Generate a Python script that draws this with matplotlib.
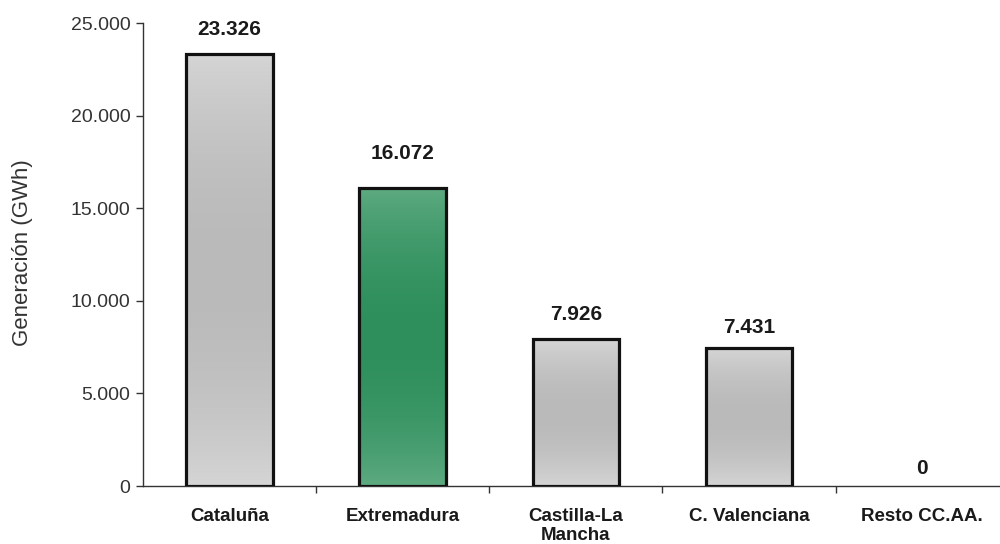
import numpy as np
import matplotlib.pyplot as plt
from matplotlib.colors import to_rgb

plt.rcParams['font.family'] = ['Liberation Sans', 'DejaVu Sans']

# Datos
regiones = ['Cataluña', 'Extremadura', 'Castilla-La\nMancha', 'C. Valenciana', 'Resto CC.AA.']
generacion = [23326, 16072, 7926, 7431, 0]
etiquetas = ['23.326', '16.072', '7.926', '7.431', '0']
yticks = [0, 5000, 10000, 15000, 20000, 25000]
ytick_labels = ['0', '5.000', '10.000', '15.000', '20.000', '25.000']

# Estilo
colores = [('#d6d6d6', '#bababa'), ('#5fab82', '#2e8f5c'), ('#d6d6d6', '#bababa'),
           ('#d6d6d6', '#bababa'), ('#d6d6d6', '#bababa')]
offsets = [11, 18, 11, 8, 6]  # separación etiqueta-barra (pt)
ancho = 0.5

fig = plt.figure(figsize=(10, 5.44), dpi=100)
ax = fig.add_axes([0.143, 0.1066, 0.857, 0.8511])

x = np.arange(len(regiones))
bars = ax.bar(x, generacion, width=ancho, facecolor='none', edgecolor='#111111',
              linewidth=2.3, zorder=3)

# Degradado vertical dentro de cada barra
t = np.linspace(0, 1, 200)
perfil = np.sin(np.pi * t) ** 0.8
for b, (c_ext, c_mid) in zip(bars, colores):
    h = b.get_height()
    if h <= 0:
        b.set_linewidth(0)  # barra vacía: no se dibuja
        continue
    a, m = np.array(to_rgb(c_ext)), np.array(to_rgb(c_mid))
    img = a[None, :] + (m - a)[None, :] * perfil[:, None]
    img = img[:, None, :]
    x0 = b.get_x()
    im = ax.imshow(img, extent=[x0, x0 + b.get_width(), 0, h], aspect='auto',
                   origin='lower', zorder=2, interpolation='bilinear')
    im.set_clip_path(b)

for xi, v, lab, off in zip(x, generacion, etiquetas, offsets):
    ax.annotate(lab, (xi, v), xytext=(0, off), textcoords='offset points',
                ha='center', va='bottom', fontsize=15, fontweight='bold', color='#1a1a1a')

ax.set_xlim(-0.5, 4.45)
ax.set_ylim(0, 25000)
ax.set_yticks(yticks)
ax.set_yticklabels(ytick_labels, fontsize=14, color='#333333')
ax.tick_params(axis='y', length=5, width=1, color='#333333', pad=4)

ax.set_xticks(np.arange(len(regiones) - 1) + 0.5)
ax.set_xticklabels([])
ax.set_xticks(x, minor=True)
ax.set_xticklabels(regiones, minor=True, fontsize=13.5, fontweight='bold', color='#1a1a1a',
                   linespacing=1.1)
ax.tick_params(axis='x', which='minor', length=0, pad=16)
ax.tick_params(axis='x', which='major', length=5, width=1, color='#333333')

for s in ['top', 'right']:
    ax.spines[s].set_visible(False)
for s in ['left', 'bottom']:
    ax.spines[s].set_color('#333333')
    ax.spines[s].set_linewidth(1)

ax.set_ylabel('Generación (GWh)', fontsize=16, color='#333333')
ax.yaxis.set_label_coords(-0.128, 0.505)

fig.savefig('out.png', dpi=100, facecolor='white')
